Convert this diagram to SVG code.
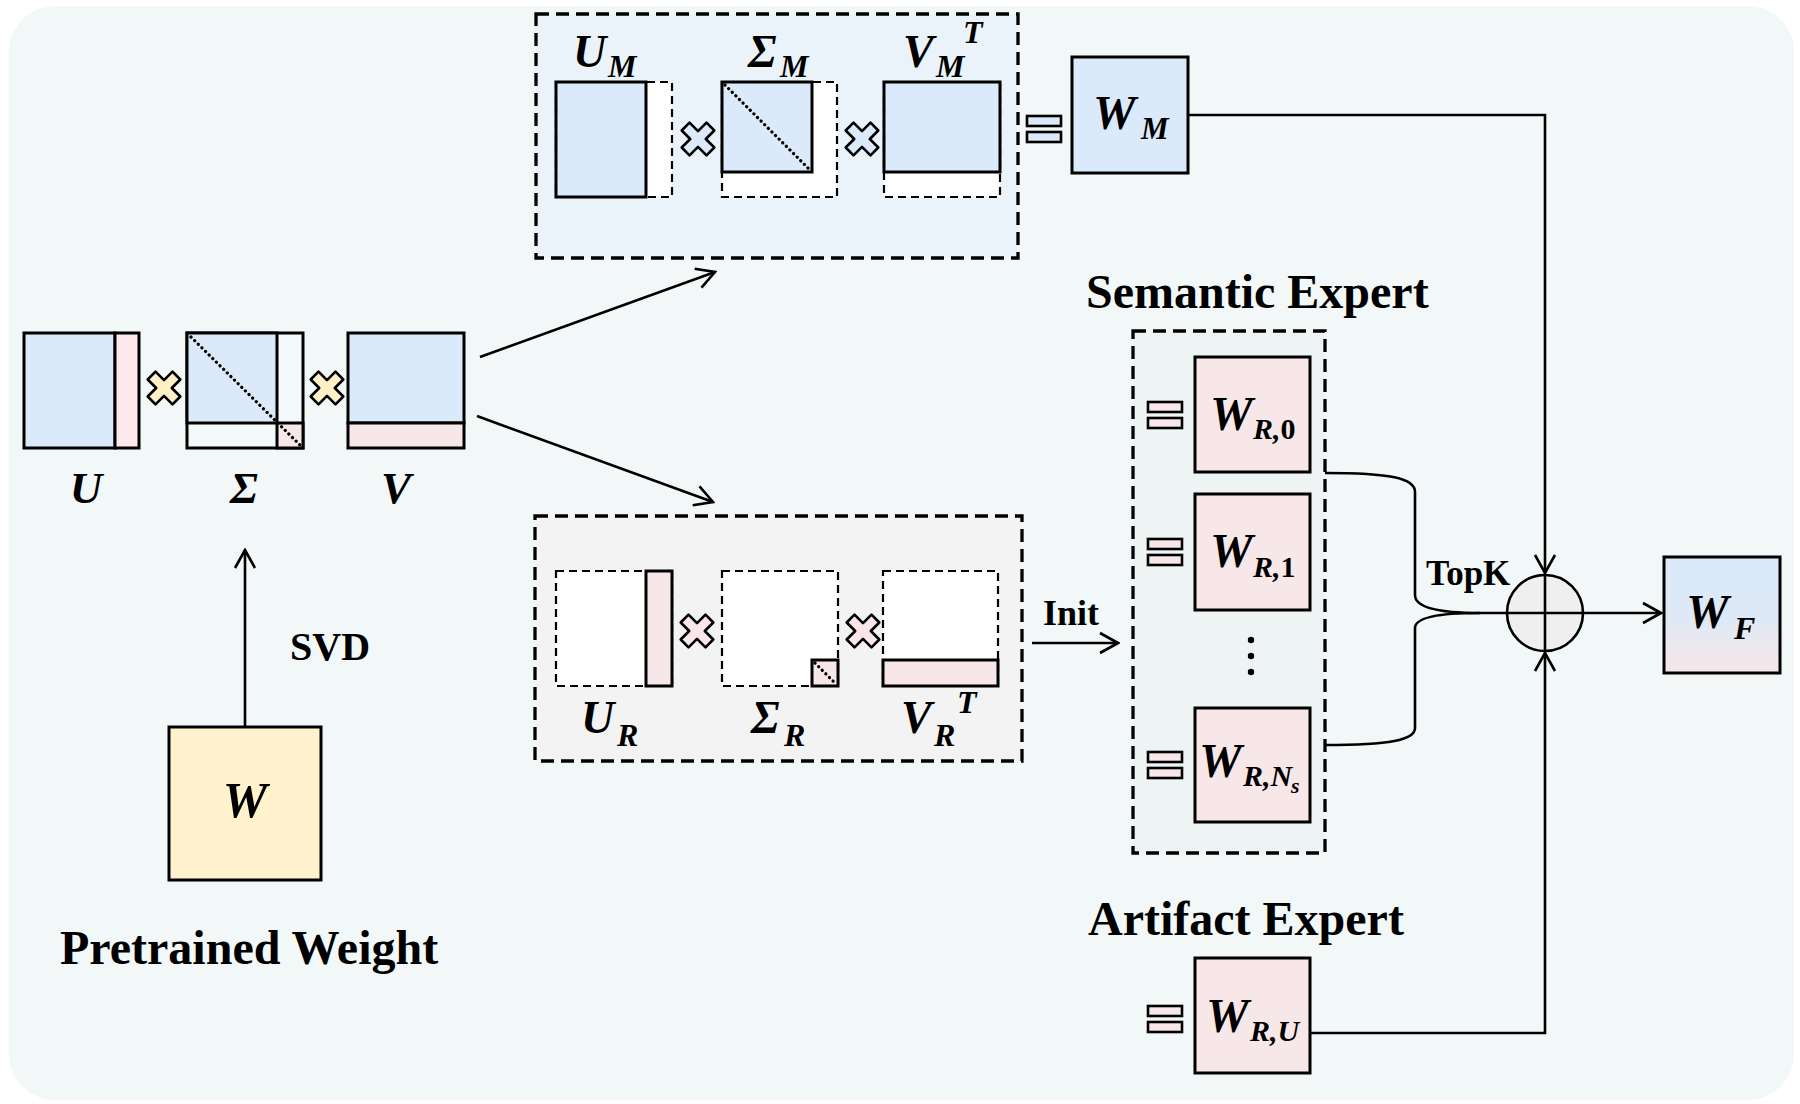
<svg xmlns="http://www.w3.org/2000/svg" width="1800" height="1104" viewBox="0 0 1800 1104">
<style>
.bx{stroke:#000;stroke-width:3}
.blue{fill:#dbeafa}
.pink{fill:#f8e7e8}
.yel{fill:#fff2cc}
.dash{fill:none;stroke:#000;stroke-width:3.3;stroke-dasharray:13 7}
.dm{fill:#fff;stroke:#000;stroke-width:2.2;stroke-dasharray:8 5}
.dot{stroke:#000;stroke-width:3.2;stroke-dasharray:0.1 5;stroke-linecap:round;fill:none}
.ln{fill:none;stroke:#000;stroke-width:2.6}
.m{font-family:"Liberation Serif",serif;font-weight:bold;font-style:italic;fill:#000}
.up{font-style:normal}
.t{font-family:"Liberation Serif",serif;font-weight:bold;fill:#000}
.x{stroke:#000;stroke-width:2.6;stroke-linejoin:round}
</style>
<defs>
<marker id="ah" viewBox="0 0 22 24" refX="20" refY="12" markerWidth="22" markerHeight="24" markerUnits="userSpaceOnUse" orient="auto">
<path d="M2,2 L20,12 L2,22" fill="none" stroke="#000" stroke-width="2.6"/>
</marker>
<path id="cr" d="M-8.5,-16.3 L0,-7.8 L8.5,-16.3 L16.3,-8.5 L7.8,0 L16.3,8.5 L8.5,16.3 L0,7.8 L-8.5,16.3 L-16.3,8.5 L-7.8,0 L-16.3,-8.5 Z"/>
<g id="eq">
<rect x="0" y="0" width="34" height="10" stroke="#000" stroke-width="2.6"/>
<rect x="0" y="16" width="34" height="10" stroke="#000" stroke-width="2.6"/>
</g>
<linearGradient id="gf" x1="0" y1="0" x2="0" y2="1">
<stop offset="0" stop-color="#dbe9f9"/>
<stop offset="0.5" stop-color="#dde9f6"/>
<stop offset="1" stop-color="#f7e6e8"/>
</linearGradient>
</defs>
<rect x="0" y="0" width="1800" height="1104" fill="#fff"/>
<rect x="9" y="6" width="1785" height="1094" rx="46" fill="#f2f7f7"/>

<g id="pretrained">
<rect class="bx yel" x="169" y="727" width="152" height="153"/>
<text class="m" x="245" y="817" font-size="50" text-anchor="middle">W</text>
<text class="t" x="60" y="964" font-size="48">Pretrained Weight</text>
</g>

<g id="svd-label"><text class="t" x="290" y="660" font-size="40">SVD</text></g>

<g id="U">
<rect class="bx blue" x="24" y="333" width="91" height="115"/>
<rect class="bx" fill="#fde9ec" x="115" y="333" width="24" height="115"/>
<text class="m" x="86" y="503" font-size="45" text-anchor="middle">U</text>
</g>
<use href="#cr" x="164" y="388" fill="#fff0c8" class="x"/>
<g id="Sigma">
<rect class="bx" fill="#f4f9f9" x="187" y="333" width="116" height="115"/>
<rect class="bx blue" x="187" y="333" width="90" height="90"/>
<rect class="bx pink" x="277" y="423" width="26" height="25"/>
<line class="dot" x1="191" y1="337" x2="300" y2="445"/>
<text class="m" x="244" y="503" font-size="45" text-anchor="middle">Σ</text>
</g>
<use href="#cr" x="327" y="388" fill="#fff0c8" class="x"/>
<g id="V">
<rect class="bx blue" x="348" y="333" width="116" height="90"/>
<rect class="bx pink" x="348" y="423" width="116" height="25"/>
<text class="m" x="396" y="503" font-size="45" text-anchor="middle">V</text>
</g>

<g id="main-branch">
<rect x="536" y="14" width="482" height="244" fill="#eaf3fa"/>
<rect class="dash" x="536" y="14" width="482" height="244"/>
<rect class="dm" x="556" y="82" width="116" height="115"/>
<rect class="bx blue" x="556" y="82" width="90" height="115"/>
<use href="#cr" x="698" y="139" fill="#dbeafa" class="x"/>
<rect class="dm" x="722" y="82" width="115" height="115"/>
<rect class="bx blue" x="722" y="82" width="90" height="90"/>
<line class="dot" x1="725" y1="85" x2="810" y2="170"/>
<use href="#cr" x="862" y="139" fill="#dbeafa" class="x"/>
<rect class="dm" x="884" y="82" width="116" height="115"/>
<rect class="bx blue" x="884" y="82" width="116" height="90"/>
<text class="m" x="573" y="67" font-size="46">U</text><text class="m" x="608" y="77" font-size="32">M</text>
<text class="m" x="748" y="67" font-size="46">Σ</text><text class="m" x="780" y="77" font-size="32">M</text>
<text class="m" x="903" y="67" font-size="46">V</text><text class="m" x="936" y="77" font-size="32">M</text><text class="m" x="963" y="43" font-size="32">T</text>
</g>

<g id="residual-branch">
<rect x="535" y="516" width="487" height="245" fill="#f3f3f3"/>
<rect class="dash" x="535" y="516" width="487" height="245"/>
<rect class="dm" x="556" y="571" width="116" height="115"/>
<rect class="bx pink" x="646" y="571" width="26" height="115"/>
<use href="#cr" x="697" y="631" fill="#fae6e8" class="x"/>
<rect class="dm" x="722" y="571" width="116" height="115"/>
<rect class="bx pink" x="812" y="660" width="26" height="26"/>
<line class="dot" x1="815" y1="663" x2="835" y2="683"/>
<use href="#cr" x="863" y="631" fill="#fae6e8" class="x"/>
<rect class="dm" x="883" y="571" width="115" height="115"/>
<rect class="bx pink" x="883" y="660" width="115" height="26"/>
<text class="m" x="581" y="733" font-size="46">U</text><text class="m" x="617" y="746" font-size="32">R</text>
<text class="m" x="751" y="733" font-size="46">Σ</text><text class="m" x="784" y="746" font-size="32">R</text>
<text class="m" x="901" y="733" font-size="46">V</text><text class="m" x="934" y="746" font-size="32">R</text><text class="m" x="957" y="713" font-size="32">T</text>
</g>

<g id="W_M">
<use href="#eq" x="1027" y="116" fill="#dbeafa"/>
<rect class="bx blue" x="1072" y="57" width="116" height="116"/>
<text class="m" x="1093" y="129" font-size="48">W</text><text class="m" x="1141" y="139" font-size="31">M</text>
</g>

<g id="semantic-expert">
<text class="t" x="1086" y="308" font-size="48">Semantic Expert</text>
<rect x="1133" y="331" width="192" height="522" fill="#eef3f3"/>
<rect class="dash" x="1133" y="331" width="192" height="522"/>
<use href="#eq" x="1148" y="402" fill="#f8e7e8"/>
<rect class="bx pink" x="1195" y="357" width="115" height="115"/>
<text class="m" x="1210" y="430" font-size="48">W</text><text class="m" x="1253" y="439" font-size="30">R,<tspan class="up">0</tspan></text>
<use href="#eq" x="1148" y="539" fill="#f8e7e8"/>
<rect class="bx pink" x="1195" y="494" width="115" height="116"/>
<text class="m" x="1210" y="567" font-size="48">W</text><text class="m" x="1253" y="577" font-size="30">R,<tspan class="up">1</tspan></text>
<circle cx="1251" cy="640" r="3.2"/><circle cx="1251" cy="656" r="3.2"/><circle cx="1251" cy="672" r="3.2"/>
<use href="#eq" x="1148" y="752" fill="#f8e7e8"/>
<rect class="bx pink" x="1195" y="708" width="115" height="114"/>
<text class="m" x="1199" y="777" font-size="48">W</text><text class="m" x="1243" y="786" font-size="30">R,N</text><text class="m" x="1291" y="793" font-size="22">s</text>
</g>

<g id="artifact-expert">
<text class="t" x="1088" y="935" font-size="48">Artifact Expert</text>
<use href="#eq" x="1148" y="1006" fill="#f8e7e8"/>
<rect class="bx pink" x="1195" y="958" width="115" height="115"/>
<text class="m" x="1206" y="1032" font-size="48">W</text><text class="m" x="1250" y="1041" font-size="30">R,U</text>
</g>

<g id="merge">
<circle cx="1545" cy="613" r="38" fill="#efefef" stroke="#000" stroke-width="2.6"/>
<line class="ln" x1="1545" y1="575" x2="1545" y2="651"/>
<line class="ln" x1="1507" y1="613" x2="1583" y2="613"/>
<text class="t" x="1426" y="585" font-size="35">TopK</text>
</g>

<g id="W_F">
<rect class="bx" fill="url(#gf)" x="1664" y="557" width="116" height="116"/>
<text class="m" x="1686" y="628" font-size="48">W</text><text class="m" x="1734" y="639" font-size="32">F</text>
</g>

<g id="connectors">
<line class="ln" x1="245" y1="727" x2="245" y2="550" marker-end="url(#ah)"/>
<line class="ln" x1="480" y1="357" x2="715" y2="272" marker-end="url(#ah)"/>
<line class="ln" x1="477" y1="416" x2="713" y2="502" marker-end="url(#ah)"/>
<line class="ln" x1="1032" y1="643" x2="1118" y2="643" marker-end="url(#ah)"/>
<text class="t" x="1043" y="625" font-size="36">Init</text>
<path class="ln" d="M1188,115 L1545,115 L1545,573" marker-end="url(#ah)"/>
<path class="ln" d="M1310,1033 L1545,1033 L1545,653" marker-end="url(#ah)"/>
<path class="ln" d="M1325,473 C1390,473 1415,478 1415,492 L1415,595 C1415,608 1440,613 1480,613 L1507,613"/>
<path class="ln" d="M1325,745 C1390,745 1415,740 1415,728 L1415,628 C1415,617 1440,613 1480,613"/>
<line class="ln" x1="1583" y1="613" x2="1661" y2="613" marker-end="url(#ah)"/>
</g>
</svg>
